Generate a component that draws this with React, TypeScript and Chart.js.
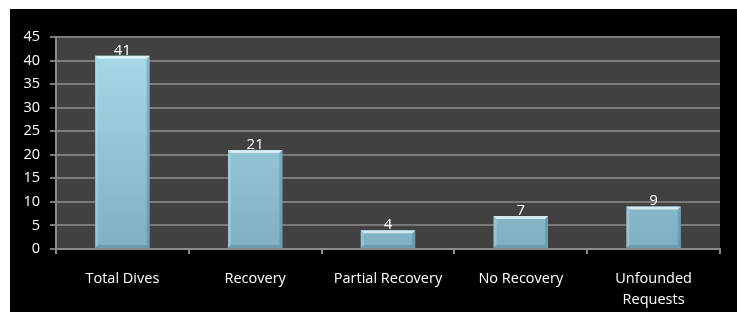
import React, { useEffect, useRef } from "react";
import { Chart, registerables } from "chart.js";
Chart.register(...registerables);

const categories: (string | string[])[] = ["Total Dives", "Recovery", "Partial Recovery", "No Recovery", ["Unfounded", "Requests"]];
const values: number[] = [41, 21, 4, 7, 9];
const yTicks = { min: 0, max: 45, step: 5 };

const FONT = "'Open Sans', sans-serif";

const plotBg = {
  id: "plotBg",
  beforeDraw(chart: any) {
    const { ctx, chartArea: a } = chart;
    ctx.save();
    ctx.fillStyle = "#414141";
    ctx.fillRect(a.left, a.top, a.right - a.left, a.bottom - a.top);
    ctx.restore();
  },
};

const bevel = {
  id: "bevel",
  afterDatasetsDraw(chart: any) {
    const { ctx } = chart;
    const meta = chart.getDatasetMeta(0);
    ctx.save();
    meta.data.forEach((bar: any, i: number) => {
      const l = bar.x - bar.width / 2;
      const r = bar.x + bar.width / 2;
      const t = bar.y;
      const b = bar.base;
      const d = 3;
      ctx.fillStyle = "rgba(235,250,255,0.75)";
      ctx.beginPath();
      ctx.moveTo(l, t);
      ctx.lineTo(r, t);
      ctx.lineTo(r - d, t + d);
      ctx.lineTo(l + d, t + d);
      ctx.closePath();
      ctx.fill();
      ctx.fillStyle = "rgba(190,225,238,0.35)";
      ctx.beginPath();
      ctx.moveTo(l, t);
      ctx.lineTo(l + d, t + d);
      ctx.lineTo(l + d, b - d);
      ctx.lineTo(l, b);
      ctx.closePath();
      ctx.fill();
      ctx.fillStyle = "rgba(70,120,140,0.35)";
      ctx.beginPath();
      ctx.moveTo(r, t);
      ctx.lineTo(r - d, t + d);
      ctx.lineTo(r - d, b - d);
      ctx.lineTo(r, b);
      ctx.closePath();
      ctx.fill();
      ctx.fillStyle = "rgba(70,120,140,0.35)";
      ctx.beginPath();
      ctx.moveTo(l, b);
      ctx.lineTo(l + d, b - d);
      ctx.lineTo(r - d, b - d);
      ctx.lineTo(r, b);
      ctx.closePath();
      ctx.fill();
      ctx.fillStyle = "#ffffff";
      ctx.font = `15px ${FONT}`;
      ctx.textAlign = "center";
      ctx.textBaseline = "bottom";
      ctx.fillText(String(values[i]), bar.x, t + 2);
    });
    ctx.restore();
  },
};

export default function App() {
  const ref = useRef<HTMLCanvasElement>(null);
  useEffect(() => {
    const ctx = ref.current!.getContext("2d")!;
    const chart = new Chart(ctx, {
      type: "bar",
      data: {
        labels: categories,
        datasets: [
          {
            data: values,
            backgroundColor: (c: any) => {
              const a = c.chart.chartArea;
              if (!a) return "#9fd0e0";
              const g = c.chart.ctx.createLinearGradient(0, a.top, 0, a.bottom);
              g.addColorStop(0, "#aadbea");
              g.addColorStop(1, "#7eb0c1");
              return g;
            },
            borderWidth: 0,
            barPercentage: 0.41,
            categoryPercentage: 1,
          },
        ],
      },
      options: {
        animation: false,
        responsive: false,
        maintainAspectRatio: false,
        layout: { padding: { left: 0, right: 17, top: 28, bottom: 0 } },
        plugins: { legend: { display: false }, tooltip: { enabled: false } },
        scales: {
          x: {
            offset: true,
            grid: {
              offset: true,
              drawOnChartArea: false,
              drawTicks: true,
              tickLength: 5,
              color: "#8a8a8a",
              lineWidth: 2,
            },
            border: { color: "#8a8a8a", width: 2 },
            ticks: { color: "#ffffff", font: { family: FONT, size: 14.5, lineHeight: 1.45 }, padding: 14, maxRotation: 0, autoSkip: false },
            afterFit: (s: any) => { s.height = 63; },
          },
          y: {
            min: yTicks.min,
            max: yTicks.max,
            ticks: { stepSize: yTicks.step, color: "#ffffff", font: { family: FONT, size: 14.5 }, padding: 10 },
            grid: { color: "#7a7a7a", lineWidth: 2, tickLength: 6 },
            border: { color: "#8a8a8a", width: 2 },
            afterFit: (s: any) => { s.width = 46; },
          },
        },
      },
      plugins: [plotBg, bevel],
    });
    return () => chart.destroy();
  }, []);
  return (
    <div style={{ position: "absolute", left: 10, top: 9, width: 727, height: 303, background: "#000" }}>
      <canvas ref={ref} width={727} height={303} style={{ display: "block" }} />
    </div>
  );
}
